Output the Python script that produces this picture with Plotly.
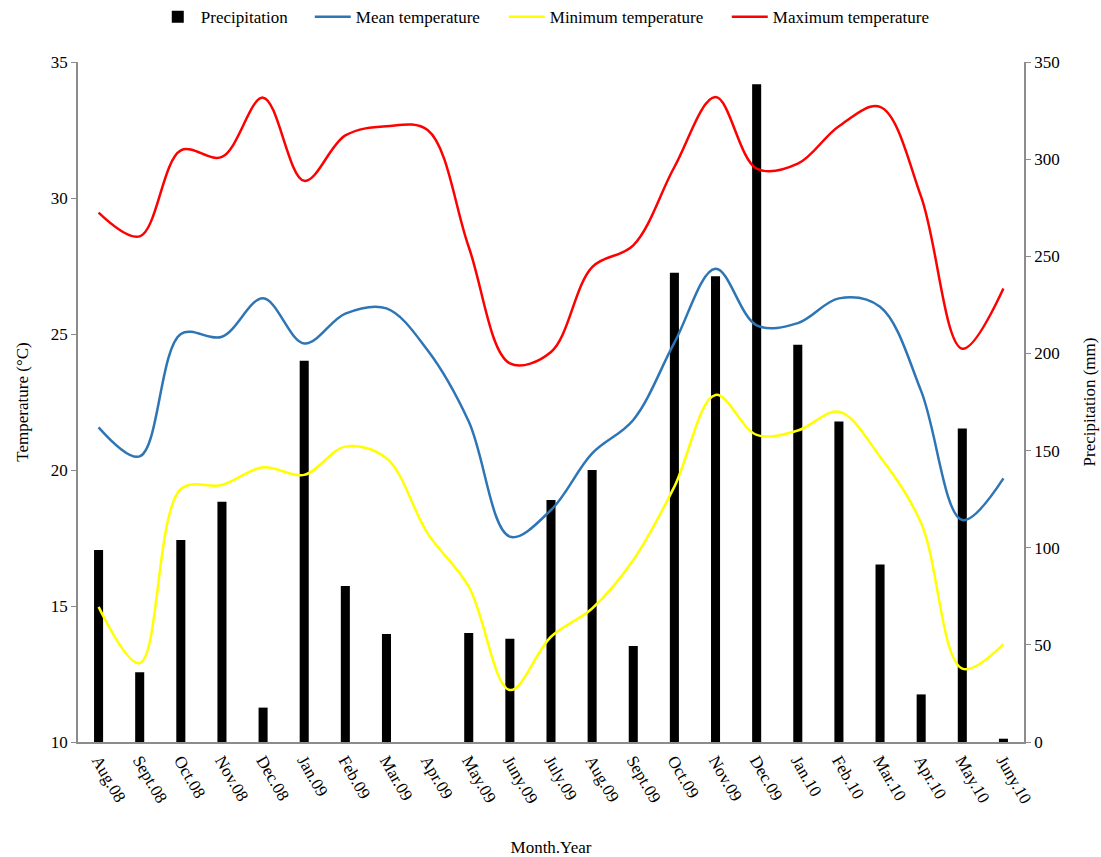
import plotly.graph_objects as go

months = ['Aug.08', 'Sept.08', 'Oct.08', 'Nov.08', 'Dec.08', 'Jan.09', 'Feb.09', 'Mar.09',
          'Apr.09', 'May.09', 'Juny.09', 'July.09', 'Aug.09', 'Sept.09', 'Oct.09', 'Nov.09',
          'Dec.09', 'Jan.10', 'Feb.10', 'Mar.10', 'Apr.10', 'May.10', 'Juny.10']

precipitation = [98.8, 35.9, 104.0, 123.7, 17.7, 196.2, 80.3, 55.6,
                 0.0, 56.1, 53.2, 124.5, 140.0, 49.4, 241.5, 239.7,
                 338.5, 204.5, 165.0, 91.4, 24.5, 161.3, 1.7]

mean_temp = [21.57, 20.5, 25.0, 24.9, 26.31, 24.65, 25.75, 25.94,
             24.4, 21.78, 17.55, 18.53, 20.61, 21.84, 24.68, 27.4,
             25.32, 25.4, 26.31, 26.0, 22.9, 18.16, 19.69]

min_temp = [14.97, 12.9, 19.3, 19.45, 20.1, 19.82, 20.86, 20.43,
            17.67, 15.71, 11.91, 13.87, 14.91, 16.69, 19.39, 22.76,
            21.29, 21.45, 22.14, 20.49, 18.04, 12.7, 13.6]

max_temp = [29.46, 28.59, 31.75, 31.51, 33.69, 30.63, 32.3, 32.64,
            32.5, 28.2, 23.92, 24.34, 27.46, 28.26, 31.14, 33.71,
            31.08, 31.26, 32.64, 33.35, 30.04, 24.46, 26.67]

FONT = 'Liberation Serif, Times New Roman, serif'
AXIS_GRAY = '#8c8c8c'
FS = 17

fig = go.Figure()

fig.add_trace(go.Bar(
    x=months, y=precipitation, name='Precipitation',
    marker=dict(color='black', line=dict(width=0)),
    width=0.22, yaxis='y', legendwidth=104))

fig.add_trace(go.Scatter(
    x=months, y=mean_temp, name='Mean temperature', mode='lines',
    line=dict(color='#2E75B6', width=2.5, shape='spline', smoothing=1.0),
    yaxis='y2', legendwidth=143))
fig.add_trace(go.Scatter(
    x=months, y=min_temp, name='Minimum temperature', mode='lines',
    line=dict(color='#FFFF00', width=2.5, shape='spline', smoothing=1.0),
    yaxis='y2', legendwidth=172))
fig.add_trace(go.Scatter(
    x=months, y=max_temp, name='Maximum temperature', mode='lines',
    line=dict(color='#FF0000', width=2.5, shape='spline', smoothing=1.0),
    yaxis='y2', legendwidth=160))

fig.update_layout(
    width=1101, height=857,
    margin=dict(l=78, r=77, t=62, b=115, autoexpand=False),
    paper_bgcolor='white', plot_bgcolor='white',
    font=dict(family=FONT, size=FS, color='black'),
    showlegend=True,
    legend=dict(orientation='h', x=0.495, xanchor='center', y=1.066, yanchor='middle',
                font=dict(family=FONT, size=FS, color='black'),
                traceorder='normal', itemwidth=36, bgcolor='rgba(0,0,0,0)'),
    xaxis=dict(
        type='category', range=[-0.5, 22.5],
        showline=True, linecolor=AXIS_GRAY, linewidth=1.5,
        ticks='', tickangle=60, showgrid=False, zeroline=False,
        tickfont=dict(family=FONT, size=FS, color='black'),
        title=dict(text='Month.Year', font=dict(family=FONT, size=FS, color='black'), standoff=38)),
    yaxis=dict(
        side='right', range=[0, 350], dtick=50, tick0=0,
        showline=True, linecolor=AXIS_GRAY, linewidth=1.5,
        ticks='outside', ticklen=5, tickcolor=AXIS_GRAY,
        showgrid=False, zeroline=False,
        tickfont=dict(family=FONT, size=FS, color='black'),
        title=dict(text='Precipitation (mm)', font=dict(family=FONT, size=FS, color='black'), standoff=24)),
    yaxis2=dict(
        side='left', overlaying='y', range=[10, 35], dtick=5, tick0=10,
        showline=True, linecolor=AXIS_GRAY, linewidth=1.5,
        ticks='outside', ticklen=5, tickcolor=AXIS_GRAY,
        showgrid=False, zeroline=False,
        tickfont=dict(family=FONT, size=FS, color='black'),
        title=dict(text='Temperature (°C)', font=dict(family=FONT, size=FS, color='black'), standoff=18)),
)

fig.write_html('out.html')
